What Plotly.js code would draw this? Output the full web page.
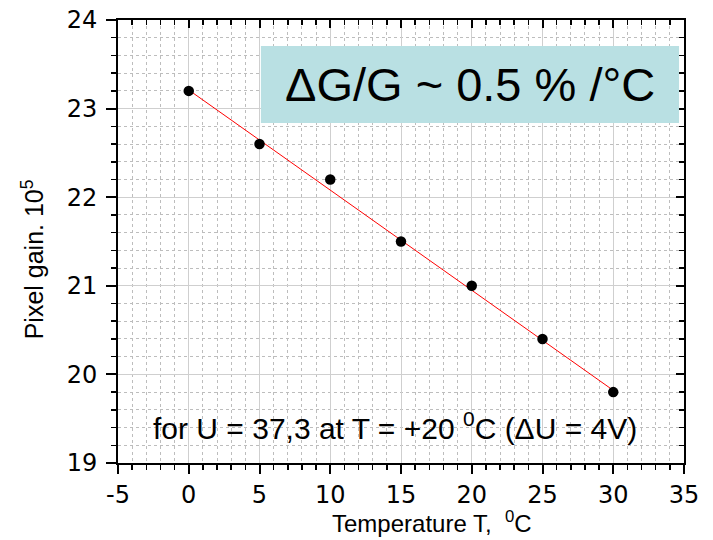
<!DOCTYPE html>
<html>
<head>
<meta charset="utf-8">
<script src="https://cdn.plot.ly/plotly-3.0.1.min.js"></script>
<style>html,body{margin:0;padding:0;background:#fff;}#chart{width:713px;height:540px;}</style>
</head>
<body>
<div id="chart"></div>
<script>
// Data
var temperature = [0, 5, 10, 15, 20, 25, 30];
var pixelGain = [23.2, 22.6, 22.2, 21.5, 21.0, 20.4, 19.8];
var fitTemperature = [0, 30];
var fitGain = [23.21, 19.82];
var xTickValues = [-5, 0, 5, 10, 15, 20, 25, 30, 35];
var yTickValues = [19, 20, 21, 22, 23, 24];
var xTitleText = 'Temperature T,&nbsp; <sup>0</sup>C';
var yTitleText = 'Pixel gain. 10<sup>5</sup>';
var boxText = '\u0394G/G ~ 0.5 % /\u00B0C';
var noteText = 'for U = 37,3 at T = +20 <sup>0</sup>C (\u0394U = 4V)';

var gridMajor = '#cfcfcf';
var gridMinor = '#bdbdbd';

var traces = [
  {x: fitTemperature, y: fitGain, mode: 'lines', type: 'scatter',
   line: {color: '#ff0000', width: 1}, hoverinfo: 'skip', showlegend: false},
  {x: temperature, y: pixelGain, mode: 'markers', type: 'scatter',
   marker: {color: '#000000', size: 10.5}, showlegend: false},
  {x: temperature, y: pixelGain, mode: 'markers', type: 'scatter', xaxis: 'x2', yaxis: 'y2',
   marker: {color: 'rgba(0,0,0,0)', size: 1}, hoverinfo: 'skip', showlegend: false}
];

var tickFont = {family: 'DejaVu Sans, Arial, sans-serif', size: 24, color: '#000'};
var textFamily = 'Liberation Sans, Arial, sans-serif';

var layout = {
  width: 713, height: 540,
  margin: {l: 118, r: 29, t: 20, b: 77, pad: 0},
  paper_bgcolor: '#ffffff', plot_bgcolor: '#ffffff',
  font: {family: textFamily, size: 14, color: '#000'},
  xaxis: {
    range: [-5, 35], tickvals: xTickValues, ticktext: xTickValues.map(String),
    ticks: 'outside', ticklen: 9, tickwidth: 2, tickcolor: '#000',
    showline: true, linecolor: '#000', linewidth: 2, zeroline: false,
    showgrid: true, gridcolor: gridMajor, gridwidth: 1,
    tickfont: tickFont, ticklabelstandoff: 0,
    minor: {dtick: 1, ticks: 'outside', ticklen: 5, tickwidth: 1.5, tickcolor: '#000',
            showgrid: true, gridcolor: gridMinor, griddash: 'dot', gridwidth: 1},
    fixedrange: true
  },
  yaxis: {
    range: [19, 24], tickvals: yTickValues, ticktext: yTickValues.map(String),
    ticks: 'outside', ticklen: 10, tickwidth: 2, tickcolor: '#000',
    showline: true, linecolor: '#000', linewidth: 2, zeroline: false,
    showgrid: true, gridcolor: gridMajor, gridwidth: 1,
    tickfont: tickFont, ticklabelstandoff: 4,
    minor: {dtick: 0.2, ticks: 'outside', ticklen: 5, tickwidth: 1.5, tickcolor: '#000',
            showgrid: true, gridcolor: gridMinor, griddash: 'dot', gridwidth: 1},
    fixedrange: true
  },
  xaxis2: {
    overlaying: 'x', side: 'top', anchor: 'y2', range: [-5, 35], tickvals: xTickValues,
    showticklabels: false, ticks: 'inside', ticklen: 8, tickwidth: 2, tickcolor: '#000',
    showline: true, linecolor: '#000', linewidth: 2, zeroline: false, showgrid: false,
    minor: {dtick: 1, ticks: 'inside', ticklen: 5, tickwidth: 1.5, tickcolor: '#000', showgrid: false},
    fixedrange: true
  },
  yaxis2: {
    overlaying: 'y', side: 'right', anchor: 'x2', range: [19, 24], tickvals: yTickValues,
    showticklabels: false, ticks: 'inside', ticklen: 8, tickwidth: 2, tickcolor: '#000',
    showline: true, linecolor: '#000', linewidth: 2, zeroline: false, showgrid: false,
    minor: {dtick: 0.2, ticks: 'inside', ticklen: 5, tickwidth: 1.5, tickcolor: '#000', showgrid: false},
    fixedrange: true
  },
  shapes: [
    {type: 'rect', xref: 'x', yref: 'y', x0: 5.1, x1: 34.65, y0: 22.837, y1: 23.707,
     fillcolor: '#b9e0e3', line: {width: 0}, layer: 'above'}
  ],
  annotations: [
    {text: boxText, xref: 'x', yref: 'y', x: 19.85, y: 23.27, showarrow: false,
     xanchor: 'center', yanchor: 'middle',
     font: {family: textFamily, size: 47, color: '#000'}},
    {text: noteText, xref: 'x', yref: 'y', x: 14.6, y: 19.42, showarrow: false,
     xanchor: 'center', yanchor: 'middle',
     font: {family: textFamily, size: 30, color: '#000'}},
    {text: xTitleText, xref: 'paper', yref: 'paper', x: 0.555, y: -0.134, showarrow: false,
     xanchor: 'center', yanchor: 'middle',
     font: {family: textFamily, size: 24, color: '#000'}},
    {text: yTitleText, xref: 'paper', yref: 'paper', x: -0.15, y: 0.46, showarrow: false,
     xanchor: 'center', yanchor: 'middle', textangle: -90,
     font: {family: textFamily, size: 25, color: '#000'}}
  ]
};

Plotly.newPlot('chart', traces, layout, {staticPlot: true, displayModeBar: false});
</script>
</body>
</html>
